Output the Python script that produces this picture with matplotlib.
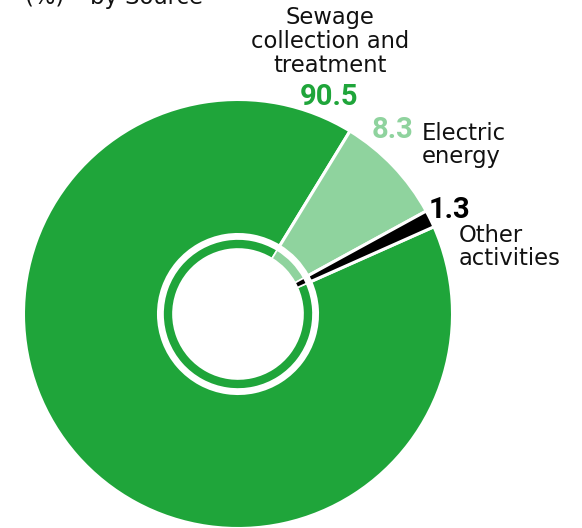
import matplotlib
matplotlib.use("Agg")
import matplotlib.pyplot as plt

# data
sources = ["Sewage collection and treatment", "Electric energy", "Other activities"]
shares = [90.5, 8.3, 1.3]
share_labels = ["90.5", "8.3", "1.3"]
colors = ["#1fa53a", "#8fd39e", "#000000"]

W, H = 582, 528
cx, cy = 238, 314


def py(y):
    # pixel row (from top) -> data y
    return H - y


def text_lines(x, baseline, lines, step, ha="left", **kw):
    for i, line in enumerate(lines):
        ax.text(x, py(baseline + i * step), line, ha=ha, va="baseline", **kw)


fig = plt.figure(figsize=(W / 100, H / 100), dpi=100)
ax = fig.add_axes([0, 0, 1, 1])

# outer ring
ax.pie(shares, radius=214.5, center=(cx, py(cy)), startangle=24, counterclock=False,
       colors=colors, wedgeprops=dict(width=135, edgecolor="white", linewidth=2.2))
# thin inner ring
ax.pie(shares, radius=75, center=(cx, py(cy)), startangle=24, counterclock=False,
       colors=colors, wedgeprops=dict(width=10, edgecolor="white", linewidth=1.2))

ax.set_xlim(0, W)
ax.set_ylim(0, H)
ax.set_aspect("auto")
ax.axis("off")

lab = dict(family="DejaVu Sans", fontsize=16.3, color="#111111")
num = dict(family="Roboto", fontsize=21, fontweight="bold")

ax.text(25, py(4), "(%) \u2013 by Source", ha="left", va="baseline", **lab)

text_lines(330, 24, ["Sewage", "collection and", "treatment"], 24, ha="center", **lab)
ax.text(329, py(105), share_labels[0], ha="center", va="baseline", color=colors[0], **num)

ax.text(413, py(138), share_labels[1], ha="right", va="baseline", color=colors[1], **num)
text_lines(422, 140, ["Electric", "energy"], 23.3, **lab)

ax.text(429, py(218), share_labels[2], ha="left", va="baseline", color=colors[2], **num)
text_lines(459, 242, ["Other", "activities"], 23.3, **lab)

fig.savefig("out.png", dpi=100)
